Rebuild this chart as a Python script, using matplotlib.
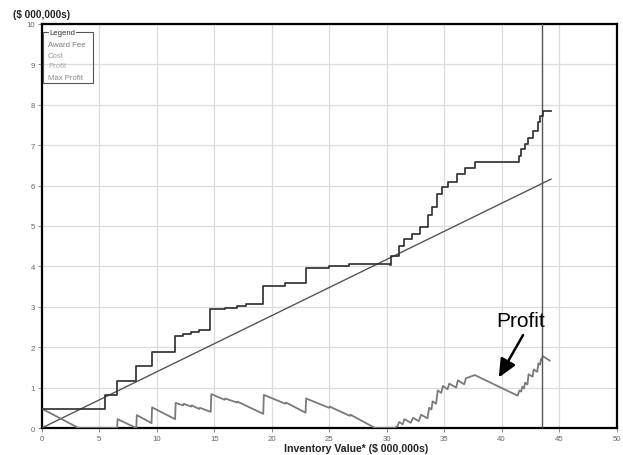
import matplotlib
matplotlib.use("Agg")
import matplotlib.pyplot as plt
from matplotlib.patches import Rectangle

plt.rcParams['font.family'] = ['Liberation Sans', 'DejaVu Sans']

# ---- data ----
fee_x = [0, 5.5, 6.55, 8.22, 9.55, 11.6, 12.3, 13.0, 13.7, 14.66, 15.9, 17.0, 17.75,
         19.27, 21.2, 22.95, 24.97, 26.7, 30.3, 30.4, 31.04, 31.47, 32.2, 32.9, 33.64,
         33.93, 34.36, 34.8, 35.37, 36.1, 36.8, 37.67, 41.5, 41.73, 42.0, 42.3, 42.74,
         43.17, 43.37, 43.6, 44.3]
fee_y = [0.48, 0.81, 1.16, 1.53, 1.88, 2.28, 2.33, 2.38, 2.43, 2.95, 2.98, 3.02, 3.07,
         3.52, 3.58, 3.96, 4.02, 4.07, 4.03, 4.25, 4.51, 4.68, 4.80, 4.97, 5.26,
         5.46, 5.79, 5.96, 6.08, 6.29, 6.43, 6.58, 6.74, 6.91, 7.02, 7.19, 7.36,
         7.57, 7.73, 7.84, 7.84]

cost_x = [0, 44.3]
cost_y = [0, 6.16]

profit_x = [0, 3.2, 6.55, 6.6, 8.22, 8.27, 9.55, 9.6, 11.6, 11.65, 12.3, 12.35, 13.0, 13.05,
            13.7, 13.75, 14.7, 14.75, 15.9, 15.95, 17.0, 17.05, 19.27, 19.32, 21.2, 21.25,
            22.95, 23.0, 25.0, 25.05, 26.8, 26.85, 29.0, 30.7, 30.95, 31.1, 31.4, 31.55,
            32.1, 32.3, 32.8, 33.0, 33.55, 33.7, 33.9, 34.0, 34.3, 34.45, 34.75, 34.9,
            35.3, 35.45, 36.05, 36.2, 36.75, 36.9, 37.67, 41.4, 41.55, 41.7, 41.8, 41.95,
            42.05, 42.25, 42.35, 42.7, 42.8, 43.1, 43.2, 43.35, 43.42, 43.5, 43.58, 44.18]
profit_y = [0.48, 0.0, 0.0, 0.22, 0.0, 0.32, 0.12, 0.51, 0.22, 0.62, 0.56, 0.60, 0.53, 0.56,
            0.47, 0.50, 0.40, 0.84, 0.70, 0.73, 0.63, 0.65, 0.35, 0.82, 0.60, 0.63,
            0.38, 0.73, 0.50, 0.53, 0.30, 0.33, 0.0, 0.0, 0.05, 0.15, 0.09, 0.22,
            0.13, 0.25, 0.17, 0.33, 0.24, 0.50, 0.46, 0.66, 0.60, 0.93, 0.87, 1.04,
            0.96, 1.10, 1.00, 1.18, 1.08, 1.23, 1.31, 0.80, 0.93, 0.90, 1.02, 0.98,
            1.12, 1.08, 1.33, 1.27, 1.45, 1.39, 1.60, 1.57, 1.70, 1.68, 1.78, 1.67]

max_profit_x = 43.55

x_ticks = [0, 5, 10, 15, 20, 25, 30, 35, 40, 45, 50]
y_ticks = [0, 1, 2, 3, 4, 5, 6, 7, 8, 9, 10]
legend_items = ["Award Fee", "Cost", "Profit", "Max Profit"]
legend_colors = ["#7a7a7a", "#9a9a9a", "#ababab", "#8a8a8a"]

# ---- figure ----
fig = plt.figure(figsize=(6.23, 4.56), dpi=100)
ax = fig.add_axes([0.067, 0.0592, 0.9226, 0.886])

ax.set_xlim(0, 50)
ax.set_ylim(0, 10)
ax.set_xticks(x_ticks)
ax.set_yticks(y_ticks)
ax.grid(True, color="#dcdcdc", linewidth=0.9)
ax.set_axisbelow(True)
ax.tick_params(axis='both', labelsize=5.6, colors="#777777", length=3, width=0.6,
               labelcolor="#666666", pad=2)
for sp in ax.spines.values():
    sp.set_linewidth(1.6)
    sp.set_color("black")

ax.plot(cost_x, cost_y, color="#555555", linewidth=1.0, zorder=3)
ax.step(fee_x, fee_y, where='post', color="#333333", linewidth=1.25, zorder=4)
ax.plot(profit_x, profit_y, color="#7a7a7a", linewidth=1.3, zorder=3)
ax.axvline(max_profit_x, color="#555555", linewidth=1.0, zorder=3)

# legend box
ax.add_patch(Rectangle((0.002, 0.854), 0.087, 0.126, transform=ax.transAxes,
                       fill=False, edgecolor="#555555", linewidth=0.8, zorder=6))
ax.text(0.013, 0.980, "Legend", transform=ax.transAxes, fontsize=5.6, color="#333333",
        va='center', ha='left', zorder=7,
        bbox=dict(facecolor='white', edgecolor='none', pad=0.3))
legend_ypos = [0.950, 0.923, 0.897, 0.868]
for lbl, col, yy in zip(legend_items, legend_colors, legend_ypos):
    ax.text(0.011, yy, lbl, transform=ax.transAxes, fontsize=5.6, color=col,
            va='center', ha='left', zorder=7)

# annotation
ax.text(41.7, 2.65, "Profit", fontsize=15, color="black", ha='center', va='center')
ax.annotate("", xy=(39.76, 1.25), xytext=(41.87, 2.30),
            arrowprops=dict(arrowstyle="-|>,head_length=1.1,head_width=0.5",
                            color="black", linewidth=1.8, shrinkA=0, shrinkB=0))

fig.text(0.066, 0.967, "($ 000,000s)", fontsize=7.2, fontweight='bold',
         ha='center', va='center', color="#222222")
fig.text(0.572, 0.0154, "Inventory Value* ($ 000,000s)", fontsize=7.6,
         fontweight='bold', ha='center', va='center', color="#222222")

fig.savefig("out.png", dpi=100)
